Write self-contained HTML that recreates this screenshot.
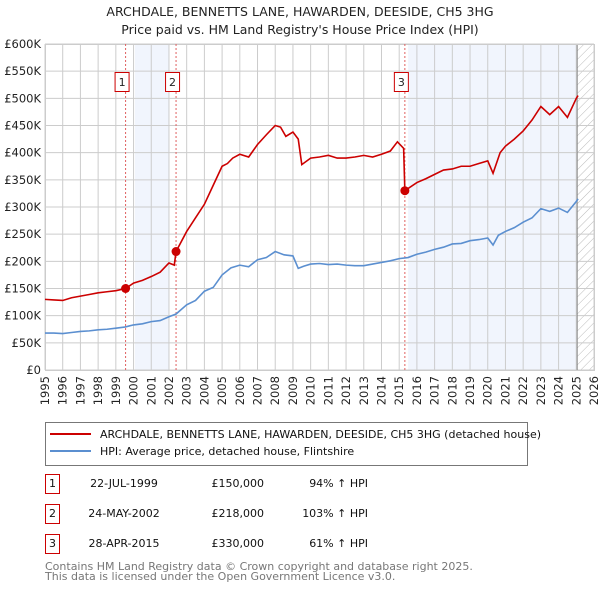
<!DOCTYPE html>
<html><head><meta charset="utf-8"><style>
body{margin:0;background:#fff;font-family:"DejaVu Sans","Liberation Sans",sans-serif;}
svg text{font-family:"DejaVu Sans","Liberation Sans",sans-serif;}
</style></head><body>
<svg id="c" width="600" height="590" viewBox="0 0 600 590" xmlns="http://www.w3.org/2000/svg">
<defs><pattern id="hatch" width="6" height="6" patternUnits="userSpaceOnUse" patternTransform="rotate(45)"><line x1="0" y1="0" x2="0" y2="6" stroke="#bbb" stroke-width="1"/></pattern></defs>
<text x="300" y="16" text-anchor="middle" font-size="12.5" fill="#222">ARCHDALE, BENNETTS LANE, HAWARDEN, DEESIDE, CH5 3HG</text>
<text x="300" y="34" text-anchor="middle" font-size="12.5" fill="#222">Price paid vs. HM Land Registry's House Price Index (HPI)</text>
<g id="grid"></g><g id="marks"></g>
<g>
<rect x="45.5" y="422.5" width="482" height="43" fill="#fff" stroke="#777"/>
<line x1="50" y1="434" x2="91" y2="434" stroke="#cc0000" stroke-width="2"/>
<text x="100" y="438" font-size="11" fill="#111">ARCHDALE, BENNETTS LANE, HAWARDEN, DEESIDE, CH5 3HG (detached house)</text>
<line x1="50" y1="451" x2="91" y2="451" stroke="#5b8fd0" stroke-width="2"/>
<text x="100" y="455" font-size="11" fill="#111">HPI: Average price, detached house, Flintshire</text>
</g>
<g id="table" font-size="11" fill="#111"></g>
<text x="45" y="570" font-size="11" fill="#777">Contains HM Land Registry data © Crown copyright and database right 2025.</text>
<text x="45" y="580" font-size="11" fill="#777">This data is licensed under the Open Government Licence v3.0.</text>
</svg>
<script>
const years=[1995,1996,1997,1998,1999,2000,2001,2002,2003,2004,2005,2006,2007,2008,2009,2010,2011,2012,2013,2014,2015,2016,2017,2018,2019,2020,2021,2022,2023,2024,2025,2026];
const yTicks=[0,50000,100000,150000,200000,250000,300000,350000,400000,450000,500000,550000,600000];
const yTickLabels=["£0","£50K","£100K","£150K","£200K","£250K","£300K","£350K","£400K","£450K","£500K","£550K","£600K"];
const hpiT=[1995,1995.5,1996,1996.5,1997,1997.5,1998,1998.5,1999,1999.5,2000,2000.5,2001,2001.5,2002,2002.4,2003,2003.5,2004,2004.5,2005,2005.5,2006,2006.5,2007,2007.5,2008,2008.5,2009,2009.3,2009.6,2010,2010.5,2011,2011.5,2012,2012.5,2013,2013.5,2014,2014.5,2015,2015.5,2016,2016.5,2017,2017.5,2018,2018.5,2019,2019.5,2020,2020.3,2020.6,2021,2021.5,2022,2022.5,2023,2023.5,2024,2024.5,2025,2025.1];
const hpiV=[68000,68000,67000,69000,71000,72000,74000,75000,77000,79000,83000,85000,89000,91000,98000,103000,120000,128000,145000,152000,175000,188000,193000,190000,203000,207000,218000,212000,210000,187000,191000,195000,196000,194000,195000,193000,192000,192000,195000,198000,201000,205000,207000,213000,217000,222000,226000,232000,233000,238000,240000,243000,230000,248000,255000,262000,272000,280000,297000,292000,298000,290000,310000,315000];
const ppT=[1995,1995.5,1996,1996.5,1997,1997.5,1998,1998.5,1999,1999.55,2000,2000.5,2001,2001.5,2002,2002.3,2002.4,2003,2003.5,2004,2004.5,2005,2005.3,2005.6,2006,2006.5,2007,2007.5,2008,2008.3,2008.6,2009,2009.3,2009.5,2010,2010.5,2011,2011.5,2012,2012.5,2013,2013.5,2014,2014.5,2014.9,2015.25,2015.32,2016,2016.5,2017,2017.5,2018,2018.5,2019,2019.5,2020,2020.3,2020.7,2021,2021.5,2022,2022.5,2023,2023.5,2024,2024.5,2025,2025.1];
const ppV=[130000,129000,128000,133000,136000,139000,142000,144000,146000,150000,160000,165000,172000,180000,197000,193000,218000,255000,280000,305000,340000,375000,380000,390000,397000,392000,415000,433000,450000,447000,430000,438000,425000,378000,390000,392000,395000,390000,390000,392000,395000,392000,397000,403000,420000,408000,330000,345000,352000,360000,368000,370000,375000,375000,380000,385000,362000,400000,412000,425000,440000,460000,485000,470000,485000,465000,500000,505000];
const saleT=[1999.55,2002.4,2015.32];
const saleV=[150000,218000,330000];
const saleLabels=["1","2","3"];
const saleDates=["22-JUL-1999","24-MAY-2002","28-APR-2015"];
const salePrices=["£150,000","£218,000","£330,000"];
const saleHpi=["94% ↑ HPI","103% ↑ HPI","61% ↑ HPI"];
const X0=45,X1=594,Y0=370,Y1=44;
const x=t=>X0+(t-1995)/(2026-1995)*(X1-X0);
const y=v=>Y0-v/600000*(Y0-Y1);
const NS="http://www.w3.org/2000/svg";
function mk(tag,attrs,parent,text){const e=document.createElementNS(NS,tag);for(const k in attrs)e.setAttribute(k,attrs[k]);if(text!==undefined)e.textContent=text;parent.appendChild(e);return e;}
const g=document.getElementById('grid'),m=document.getElementById('marks'),tb=document.getElementById('table');
let r=mk('rect',{x:x(2000.08),y:Y1,width:x(2002.0)-x(2000.08),height:Y0-Y1,fill:'#eef3fc',opacity:0.8},g);


r=mk('rect',{x:x(2015.5),y:Y1,width:x(2025.05)-x(2015.5),height:Y0-Y1,fill:'#eef3fc',opacity:0.8},g);


r=mk('rect',{x:x(2025.05),y:Y1,width:X1-x(2025.05),height:Y0-Y1,fill:'url(#hatch)'},g);


years.forEach(yr=>{const l=mk('line',{x1:x(yr),x2:x(yr),y1:Y1,y2:Y0,stroke:'#ccc','stroke-width':1},g);


const t=mk('text',{x:0,y:0,'font-size':11.5,fill:'#222','text-anchor':'end',transform:`translate(${x(yr)+4},${Y0+6}) rotate(-90)`},g,String(yr));

});
yTicks.forEach((v,i)=>{const l=mk('line',{x1:X0,x2:X1,y1:y(v),y2:y(v),stroke:'#ccc','stroke-width':1},g);


const t=mk('text',{x:X0-4,y:y(v)+4,'font-size':11.5,fill:'#222','text-anchor':'end'},g,yTickLabels[i]);

});
r=mk('line',{x1:x(2025.05),x2:x(2025.05),y1:Y1,y2:Y0,stroke:'#888','stroke-width':1},g);


saleT.forEach((t,i)=>{const l=mk('line',{x1:x(t),x2:x(t),y1:Y1,y2:Y0,stroke:'#e06060','stroke-width':1,'stroke-dasharray':'2,2'},m);


const b=mk('rect',{x:x(t)-10.5,y:72.5,width:14,height:19,fill:'#fff',stroke:'#cc0000'},m);


const tx=mk('text',{x:x(t)-3.5,y:86,'font-size':11,fill:'#222','text-anchor':'middle'},m,saleLabels[i]);

});
let p=mk('polyline',{points:hpiT.map((t,i)=>x(t)+','+y(hpiV[i])).join(' '),fill:'none',stroke:'#5b8fd0','stroke-width':1.6},m);


p=mk('polyline',{points:ppT.map((t,i)=>x(t)+','+y(ppV[i])).join(' '),fill:'none',stroke:'#cc0000','stroke-width':1.6},m);


saleT.forEach((t,i)=>{const c=mk('circle',{cx:x(t),cy:y(saleV[i]),r:4.5,fill:'#cc0000'},m);

});
const ys=[482,512,542];
saleT.forEach((t,i)=>{const b=mk('rect',{x:45.5,y:ys[i]-7.5,width:14,height:19,fill:'#fff',stroke:'#cc0000'},tb);


let e=mk('text',{x:52.5,y:ys[i]+5,'text-anchor':'middle'},tb,saleLabels[i]);


e=mk('text',{x:124,y:ys[i]+5,'text-anchor':'middle'},tb,saleDates[i]);


e=mk('text',{x:264,y:ys[i]+5,'text-anchor':'end'},tb,salePrices[i]);


e=mk('text',{x:368,y:ys[i]+5,'text-anchor':'end'},tb,saleHpi[i]);

});
r=mk('rect',{x:X0+0.5,y:Y1+0.5,width:X1-X0,height:Y0-Y1,fill:'none',stroke:'#ccc'},g);


</script>
</body></html>
